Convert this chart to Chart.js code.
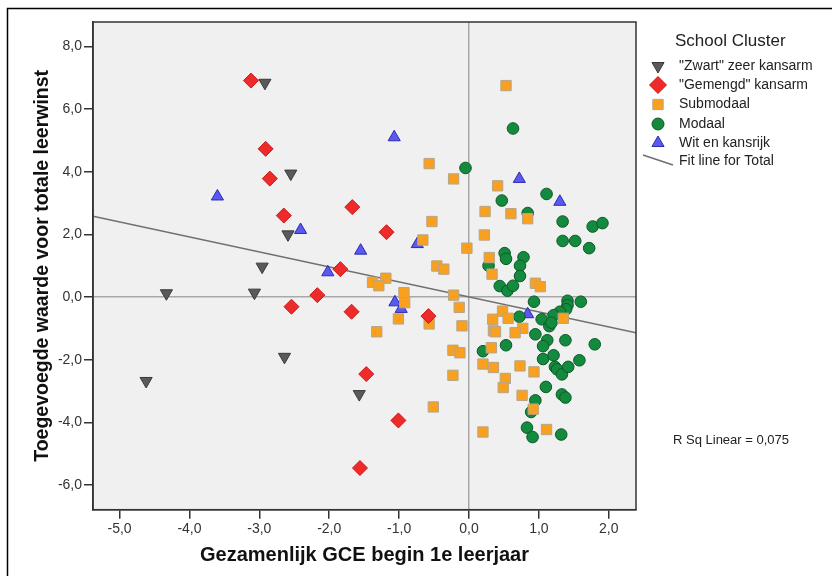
<!DOCTYPE html>
<html>
<head>
<meta charset="utf-8">
<script src="https://cdn.jsdelivr.net/npm/chart.js@4"></script>
<style>
  body { margin: 0; background: #fff; }
  #wrap { width: 832px; height: 576px; }
</style>
</head>
<body>
<div id="wrap"><canvas id="chart" width="832" height="576"></canvas></div>
<script>
// values: [GCE begin, toegevoegde waarde]
const zwartX = [-2.92, -2.55, -2.59, -2.96, -4.33, -3.07, -2.64, -4.62, -1.57];
const zwartY = [6.84, 3.94, 2.00, 0.97, 0.12, 0.14, -1.91, -2.68, -3.10];

const gemengdX = [-3.12, -2.91, -2.85, -2.65, -1.67, -1.18, -1.84, -2.17, -2.54, -1.68, -0.58, -1.47, -1.01, -1.56];
const gemengdY = [6.91, 4.73, 3.78, 2.60, 2.87, 2.07, 0.89, 0.06, -0.31, -0.47, -0.61, -2.46, -3.94, -5.46];

const submodaalX = [-0.57, -0.22, -0.53, -0.66, -0.03, -0.46, -0.36, -1.38, -1.19, -1.29, -0.93, -0.92, -1.01, -0.57,
  -0.22, -0.14, -0.10, -1.32, -0.23, -0.13, -0.23, -0.51, 0.53, 0.41, 0.23, 0.60, 0.84, 0.22, 0.29, 0.33, 0.95, 1.02,
  1.35, 0.48, 0.56, 0.34, 0.35, 0.38, 0.77, 0.66, 0.32, 0.20, 0.35, 0.73, 0.93, 0.52, 0.49, 0.76, 0.92, 0.20, 1.11];
const submodaalY = [4.26, 3.77, 2.41, 1.82, 1.56, 0.99, 0.89, 0.47, 0.60, 0.36, 0.14, -0.18, -0.70, -0.86,
  0.06, -0.33, -0.92, -1.11, -1.70, -1.78, -2.50, -3.51, 6.75, 3.55, 2.73, 2.66, 2.50, 1.98, 1.26, 0.73, 0.44, 0.33,
  -0.68, -0.45, -0.68, -0.71, -1.08, -1.11, -1.00, -1.14, -1.62, -2.14, -2.25, -2.20, -2.39, -2.60, -2.89, -3.14, -3.58, -4.31, -4.23];

const modaalX = [-0.05, 0.63, 0.47, 1.11, 0.84, 1.34, 1.77, 1.91, 1.34, 1.52, 1.72, 0.51, 0.53, 0.78, 0.28, 0.73, 0.73,
  0.44, 0.55, 0.63, 0.93, 1.41, 1.60, 1.41, 1.39, 1.30, 1.21, 0.72, 1.04, 1.15, 1.18, 0.95, 1.12, 1.38, 1.80, 1.06,
  0.20, 0.53, 1.06, 1.21, 1.23, 1.26, 1.33, 1.42, 1.58, 1.10, 1.33, 1.38, 0.95, 0.89, 0.83, 0.91, 1.32];
const modaalY = [4.12, 5.38, 3.08, 3.29, 2.68, 2.41, 2.25, 2.36, 1.79, 1.79, 1.56, 1.40, 1.22, 1.27, 1.00, 1.00, 0.67,
  0.35, 0.20, 0.36, -0.15, -0.12, -0.15, -0.26, -0.39, -0.47, -0.58, -0.63, -0.71, -0.93, -0.82, -1.19, -1.38, -1.38, -1.51, -1.57,
  -1.73, -1.54, -1.98, -1.86, -2.23, -2.31, -2.47, -2.23, -2.02, -2.87, -3.11, -3.21, -3.30, -3.67, -4.17, -4.47, -4.39];

const witX = [-3.60, -2.41, -1.07, -1.55, -0.74, -2.02, -1.06, -0.97, 0.72, 1.30, 0.84];
const witY = [3.21, 2.14, 5.10, 1.48, 1.69, 0.79, -0.17, -0.38, 3.77, 3.04, -0.55];

const fitX = [-5.38, 2.39];
const fitY = [2.58, -1.14];

const clusterLabels = ['"Zwart" zeer kansarm', '"Gemengd" kansarm', 'Submodaal', 'Modaal', 'Wit en kansrijk'];
const rSqText = 'R Sq Linear = 0,075';

const FONT = '"Liberation Sans", Arial, sans-serif';

function pts(xs, ys) {
  return xs.map((x, i) => ({ x: x, y: ys[i] }));
}

const plotBg = {
  id: 'plotBg',
  beforeDraw(chart) {
    const { ctx, chartArea: a } = chart;
    ctx.save();
    ctx.fillStyle = '#f0f0f0';
    ctx.fillRect(a.left, a.top, a.right - a.left, a.bottom - a.top);
    ctx.restore();
  },
  afterDraw(chart) {
    const { ctx, chartArea: a } = chart;
    ctx.save();
    ctx.strokeStyle = '#333';
    ctx.lineWidth = 1.5;
    ctx.strokeRect(a.left, a.top, a.right - a.left, a.bottom - a.top);
    // outer frame (only top and left show)
    ctx.strokeStyle = '#000';
    ctx.beginPath();
    ctx.moveTo(7.5, 576);
    ctx.lineTo(7.5, 8.5);
    ctx.lineTo(832, 8.5);
    ctx.stroke();

    // legend
    ctx.fillStyle = '#222';
    ctx.textBaseline = 'middle';
    ctx.font = '17px ' + FONT;
    ctx.fillText('School Cluster', 675, 41);
    ctx.font = '14px ' + FONT;
    const rows = [66, 85, 104.5, 124, 143];
    const legendRadius = [7, 8.5, 7.3, 6, 7];
    chart.data.datasets.slice(0, 5).forEach((ds, i) => {
      ctx.fillStyle = ds.backgroundColor;
      ctx.strokeStyle = ds.borderColor;
      ctx.lineWidth = 1;
      Chart.helpers.drawPoint(ctx, {
        pointStyle: ds.pointStyle, rotation: ds.rotation || 0,
        radius: legendRadius[i], borderWidth: 1
      }, 658, rows[i]);
      ctx.fillStyle = '#222';
      ctx.fillText(clusterLabels[i], 679, rows[i]);
    });
    ctx.strokeStyle = '#707070';
    ctx.lineWidth = 1.5;
    ctx.beginPath();
    ctx.moveTo(643, 155);
    ctx.lineTo(673, 165);
    ctx.stroke();
    ctx.fillStyle = '#222';
    ctx.fillText('Fit line for Total', 679, 161.5);

    ctx.font = '13px ' + FONT;
    ctx.fillText(rSqText, 673, 440);
    ctx.restore();
  }
};

new Chart(document.getElementById('chart'), {
  type: 'scatter',
  data: {
    datasets: [
      { label: clusterLabels[0], data: pts(zwartX, zwartY), pointStyle: 'triangle', rotation: 180, pointRadius: 7,
        backgroundColor: '#5a5a5a', borderColor: '#3a3a3a', borderWidth: 1 },
      { label: clusterLabels[1], data: pts(gemengdX, gemengdY), pointStyle: 'rectRot', pointRadius: 7.5,
        backgroundColor: '#ee2a2a', borderColor: '#cc1a1a', borderWidth: 1 },
      { label: clusterLabels[2], data: pts(submodaalX, submodaalY), pointStyle: 'rect', pointRadius: 7.3,
        backgroundColor: '#f9a11f', borderColor: '#b5a58a', borderWidth: 1 },
      { label: clusterLabels[3], data: pts(modaalX, modaalY), pointStyle: 'circle', pointRadius: 5.8,
        backgroundColor: '#148a3e', borderColor: '#0b5a27', borderWidth: 1 },
      { label: clusterLabels[4], data: pts(witX, witY), pointStyle: 'triangle', pointRadius: 7,
        backgroundColor: '#5a5af0', borderColor: '#2c2cb0', borderWidth: 1 },
      { type: 'line', label: 'Fit line for Total', data: pts(fitX, fitY), borderColor: '#707070',
        borderWidth: 1.5, pointRadius: 0, fill: false }
    ]
  },
  options: {
    responsive: false,
    animation: false,
    events: [],
    layout: { padding: { left: 30.5, right: 196, top: 22, bottom: 8.5 } },
    plugins: { legend: { display: false }, tooltip: { enabled: false } },
    scales: {
      x: {
        type: 'linear', min: -5.38, max: 2.39,
        ticks: {
          stepSize: 1, includeBounds: false, padding: 2, color: '#333',
          font: { family: FONT, size: 14 },
          callback: (v) => v.toFixed(1).replace('.', ',')
        },
        grid: {
          color: (c) => (c.tick && c.tick.value === 0 ? '#a8a8a8' : 'rgba(0,0,0,0)'),
          lineWidth: 1.5, tickColor: '#333', tickWidth: 1.5, tickLength: 9
        },
        border: { color: '#333', width: 1.5 },
        title: {
          display: true, text: 'Gezamenlijk GCE begin 1e leerjaar', color: '#111',
          font: { family: FONT, size: 20, weight: 'bold' }, padding: { top: 4, bottom: 0 }
        }
      },
      y: {
        type: 'linear', min: -6.79, max: 8.78,
        ticks: {
          stepSize: 2, includeBounds: false, padding: 2, color: '#333',
          font: { family: FONT, size: 14 },
          callback: (v) => v.toFixed(1).replace('.', ',')
        },
        grid: {
          color: (c) => (c.tick && c.tick.value === 0 ? '#a8a8a8' : 'rgba(0,0,0,0)'),
          lineWidth: 1.5, tickColor: '#333', tickWidth: 1.5, tickLength: 9
        },
        border: { color: '#333', width: 1.5 },
        title: {
          display: true, text: 'Toegevoegde waarde voor totale leerwinst', color: '#111',
          font: { family: FONT, size: 19.5, weight: 'bold' }, padding: { top: 0, bottom: 2 }
        }
      }
    }
  },
  plugins: [plotBg]
});
</script>
</body>
</html>
